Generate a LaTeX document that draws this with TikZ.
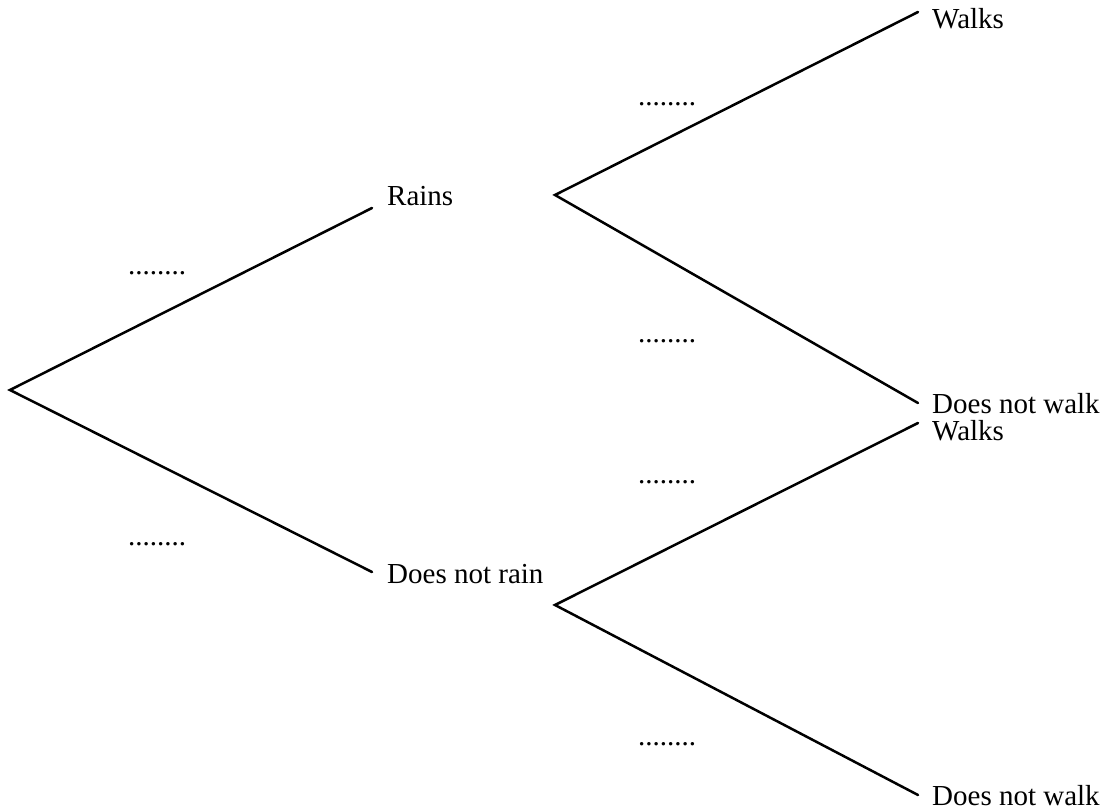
\documentclass[tikz,border=0pt]{standalone}
\usepackage{fontspec}
\setmainfont{Liberation Serif}
\begin{document}
\begin{tikzpicture}[x=1pt,y=-1pt,
  branch/.style={line width=2.5pt,line cap=round,line join=miter},
  lbl/.style={anchor=base west,inner sep=0pt,font=\fontsize{29}{34}\selectfont},
  prob/.style={anchor=base,inner sep=0pt,font=\fontsize{29}{34}\selectfont}]
\useasboundingbox (0,0) rectangle (1106,810);
% first level
\coordinate (root) at (10,390);
\coordinate (r1) at (372,208);
\coordinate (r2) at (372,572);
\node[lbl] (rains) at (387,206) {Rains};
\node[lbl] (norain) at (387,583) {Does not rain};
\draw[branch] (r1) -- (root) -- (r2);
\node[prob] (p1) at (157,275) {........};
\node[prob] (p2) at (157,545) {........};
% second level, upper
\coordinate (v1) at (555,195);
\coordinate (w1) at (918,12);
\coordinate (n1) at (918,403);
\node[lbl] (walk1) at (932,29) {Walks};
\node[lbl] (nowalk1) at (932,413) {Does not walk};
\draw[branch] (w1) -- (v1) -- (n1);
\node[prob] (p3) at (667,106) {........};
\node[prob] (p4) at (667,342) {........};
% second level, lower
\coordinate (v2) at (555,605);
\coordinate (w2) at (918,423);
\coordinate (n2) at (918,795);
\node[lbl] (walk2) at (932,440) {Walks};
\node[lbl] (nowalk2) at (932,805) {Does not walk};
\draw[branch] (w2) -- (v2) -- (n2);
\node[prob] (p5) at (667,483) {........};
\node[prob] (p6) at (667,745) {........};
\end{tikzpicture}
\end{document}
